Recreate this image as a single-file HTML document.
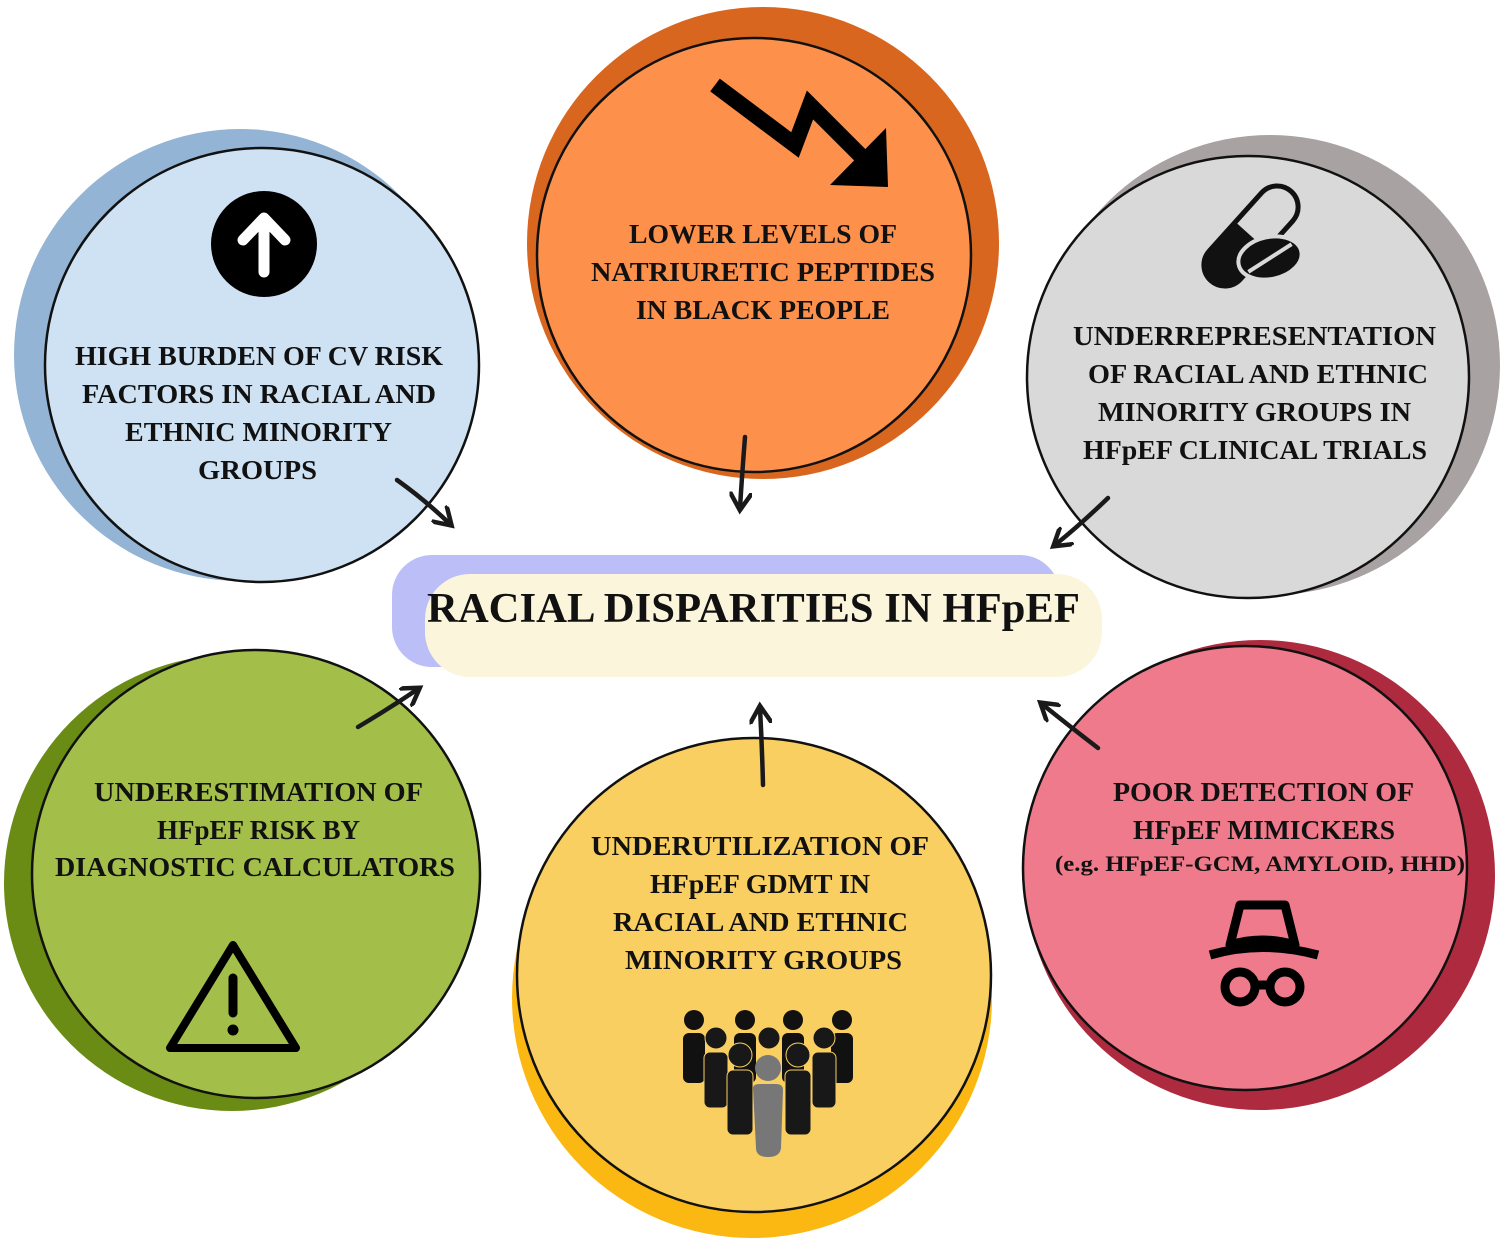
<!DOCTYPE html>
<html><head><meta charset="utf-8"><style>
html,body{margin:0;padding:0;background:#fff;}
svg{display:block;}
text{font-family:"Liberation Serif",serif;font-weight:bold;fill:#111;}
</style></head><body>
<svg width="1501" height="1240" viewBox="0 0 1501 1240" xmlns="http://www.w3.org/2000/svg">
<defs>
<marker id="ah" viewBox="0 0 10 10" refX="7" refY="5" markerWidth="5" markerHeight="5" orient="auto" markerUnits="strokeWidth">
<path d="M0,0 L8,5 L0,10" fill="none" stroke="#1a1a1a" stroke-width="2"/>
</marker>
<clipPath id="lowhalf"><rect x="-70" y="-40" width="70" height="80"/></clipPath>
</defs>
<circle cx="240" cy="355" r="226" fill="#93b4d4"/>
<circle cx="763" cy="243" r="236" fill="#d9661f"/>
<circle cx="1270" cy="365" r="230" fill="#a8a2a2"/>
<circle cx="232" cy="883" r="228" fill="#6a8c14"/>
<circle cx="752" cy="998" r="240" fill="#fbb812"/>
<circle cx="1260" cy="875" r="235" fill="#ae2b3f"/>
<circle cx="262" cy="365" r="217" fill="#cfe2f3" stroke="#111" stroke-width="2.5"/>
<circle cx="754" cy="255" r="217" fill="#fd914b" stroke="#111" stroke-width="2.5"/>
<circle cx="1248" cy="377" r="221" fill="#d9d9d9" stroke="#111" stroke-width="2.5"/>
<circle cx="256" cy="874" r="224" fill="#a3bf4a" stroke="#111" stroke-width="2.5"/>
<circle cx="754" cy="975" r="237" fill="#f8cf60" stroke="#111" stroke-width="2.5"/>
<circle cx="1245" cy="868" r="222" fill="#ef7a8b" stroke="#111" stroke-width="2.5"/>

<rect x="392" y="555" width="668" height="112" rx="40" fill="#bbbef7"/>
<rect x="425" y="574" width="677" height="103" rx="45" fill="#fbf5dc"/>
<text x="427" y="622" font-size="42" textLength="653" lengthAdjust="spacingAndGlyphs">RACIAL DISPARITIES IN HFpEF</text>

<g font-size="27">
<text x="75" y="365" textLength="368" lengthAdjust="spacingAndGlyphs">HIGH BURDEN OF CV RISK</text>
<text x="82" y="403" textLength="354" lengthAdjust="spacingAndGlyphs">FACTORS IN RACIAL AND</text>
<text x="125" y="441" textLength="267" lengthAdjust="spacingAndGlyphs">ETHNIC MINORITY</text>
<text x="198" y="479" textLength="119" lengthAdjust="spacingAndGlyphs">GROUPS</text>

<text x="629" y="243" textLength="268" lengthAdjust="spacingAndGlyphs">LOWER LEVELS OF</text>
<text x="591" y="281" textLength="344" lengthAdjust="spacingAndGlyphs">NATRIURETIC PEPTIDES</text>
<text x="636" y="319" textLength="254" lengthAdjust="spacingAndGlyphs">IN BLACK PEOPLE</text>

<text x="1073" y="345" textLength="363" lengthAdjust="spacingAndGlyphs">UNDERREPRESENTATION</text>
<text x="1088" y="383" textLength="340" lengthAdjust="spacingAndGlyphs">OF RACIAL AND ETHNIC</text>
<text x="1098" y="421" textLength="313" lengthAdjust="spacingAndGlyphs">MINORITY GROUPS IN</text>
<text x="1083" y="459" textLength="344" lengthAdjust="spacingAndGlyphs">HFpEF CLINICAL TRIALS</text>

<text x="94" y="801" textLength="329" lengthAdjust="spacingAndGlyphs">UNDERESTIMATION OF</text>
<text x="157" y="839" textLength="203" lengthAdjust="spacingAndGlyphs">HFpEF RISK BY</text>
<text x="55" y="876" textLength="400" lengthAdjust="spacingAndGlyphs">DIAGNOSTIC CALCULATORS</text>

<text x="591" y="855" textLength="338" lengthAdjust="spacingAndGlyphs">UNDERUTILIZATION OF</text>
<text x="650" y="893" textLength="220" lengthAdjust="spacingAndGlyphs">HFpEF GDMT IN</text>
<text x="613" y="931" textLength="295" lengthAdjust="spacingAndGlyphs">RACIAL AND ETHNIC</text>
<text x="625" y="969" textLength="277" lengthAdjust="spacingAndGlyphs">MINORITY GROUPS</text>

<text x="1113" y="801" textLength="301" lengthAdjust="spacingAndGlyphs">POOR DETECTION OF</text>
<text x="1133" y="839" textLength="262" lengthAdjust="spacingAndGlyphs">HFpEF MIMICKERS</text>
<text x="1055" y="871" font-size="22" textLength="410" lengthAdjust="spacingAndGlyphs">(e.g. HFpEF-GCM, AMYLOID, HHD)</text>
</g>

<g stroke="#1a1a1a" stroke-width="4.5" fill="none" stroke-linecap="round" marker-end="url(#ah)">
<path d="M397,480 Q425,500 450,524"/>
<path d="M745,437 Q742,475 740,508"/>
<path d="M1108,498 Q1080,525 1055,545"/>
<path d="M358,727 Q390,708 418,689"/>
<path d="M763,785 Q762,745 760,708"/>
<path d="M1098,748 Q1068,725 1042,704"/>
</g>

<circle cx="264" cy="244" r="53" fill="#000"/>
<path d="M264,272 L264,220 M243,240 L264,218 L285,240" stroke="#fff" stroke-width="11" fill="none" stroke-linecap="round" stroke-linejoin="round"/>

<path d="M715,85 L795,145 L810,105 L865,160" stroke="#000" stroke-width="16" fill="none" stroke-linejoin="miter"/>
<path d="M830,185 L888,187 L886,128 Z" fill="#000"/>

<!-- pill icon -->
<g transform="translate(1251,236) rotate(-48)">
<rect x="-60" y="-21" width="120" height="42" rx="21" fill="none" stroke="#111" stroke-width="5"/>
<rect x="-60" y="-21" width="120" height="42" rx="21" fill="#111" clip-path="url(#lowhalf)"/>
</g>
<g transform="translate(1270,258) rotate(-12)">
<ellipse cx="0" cy="0" rx="32" ry="21" fill="#111" stroke="#d9d9d9" stroke-width="4"/>
<path d="M-24,9 L24,-9" stroke="#d9d9d9" stroke-width="4"/>
</g>

<path d="M233,945 L296,1048 L170,1048 Z" fill="none" stroke="#000" stroke-width="8" stroke-linejoin="round"/>
<path d="M233,978 L233,1013" stroke="#000" stroke-width="9" stroke-linecap="round"/>
<circle cx="233" cy="1030" r="5.5" fill="#000"/>

<g fill="#111">
<circle cx="694" cy="1020" r="10"/><rect x="683" y="1033" width="22" height="50" rx="6"/>
<circle cx="745" cy="1020" r="10"/><rect x="734" y="1033" width="22" height="50" rx="6"/>
<circle cx="793" cy="1020" r="10"/><rect x="782" y="1033" width="22" height="50" rx="6"/>
<circle cx="842" cy="1020" r="10"/><rect x="831" y="1033" width="22" height="50" rx="6"/>
<g fill="#181818" stroke="#f8cf60" stroke-width="1">
<circle cx="716" cy="1038" r="11"/><rect x="704" y="1052" width="24" height="56" rx="6"/>
<circle cx="769" cy="1038" r="11"/>
<circle cx="824" cy="1038" r="11"/><rect x="812" y="1052" width="24" height="56" rx="6"/>
<circle cx="740" cy="1055" r="12"/><rect x="727" y="1070" width="26" height="65" rx="6"/>
<circle cx="798" cy="1055" r="12"/><rect x="785" y="1070" width="26" height="65" rx="6"/>
</g>
<circle cx="768" cy="1068" r="13" fill="#777"/>
<path d="M753,1088 Q753,1084 760,1084 L776,1084 Q783,1084 783,1090 L781,1148 Q780,1157 768,1157 Q756,1157 756,1148 Z" fill="#777"/>
</g>

<g stroke="#000" stroke-width="9" fill="none" stroke-linejoin="round">
<path d="M1240,905 L1285,905 L1295,945 Q1262,935 1230,945 Z"/>
<path d="M1210,955 Q1262,940 1318,955"/>
<circle cx="1240" cy="987" r="15"/>
<circle cx="1285" cy="987" r="15"/>
<path d="M1255,985 L1270,985"/>
</g>
</svg>
</body></html>
